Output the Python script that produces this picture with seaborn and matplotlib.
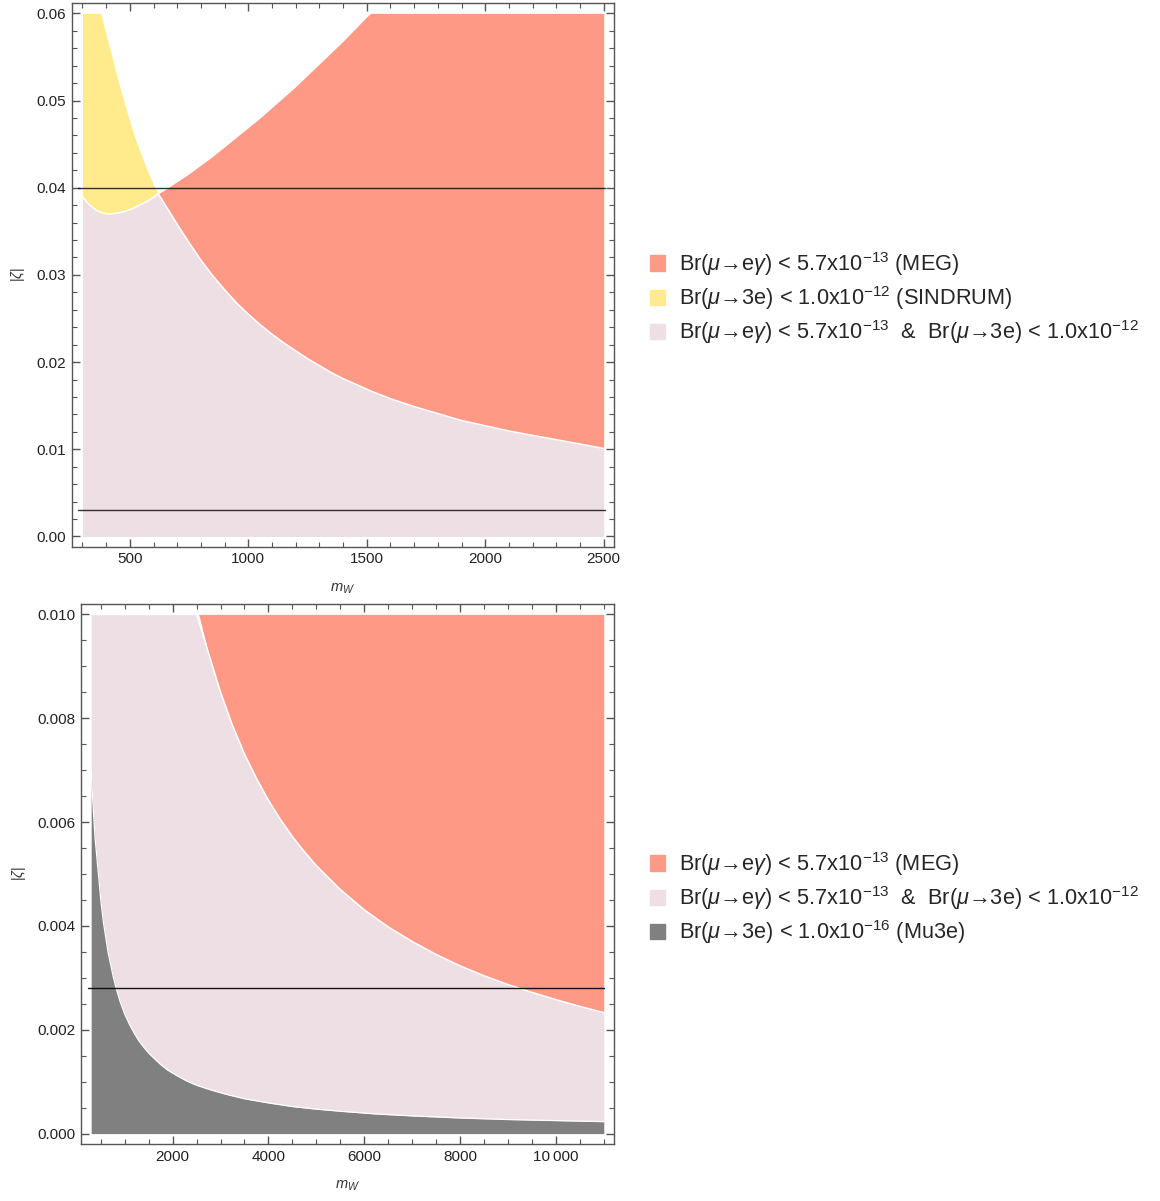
import numpy as np
import pandas as pd
import seaborn as sns
import matplotlib
matplotlib.use("Agg")
import matplotlib.pyplot as plt
from matplotlib.patches import Patch
from matplotlib.ticker import MultipleLocator, FixedLocator, FormatStrFormatter

sns.set_style("ticks")
plt.rcParams['font.family'] = ['Liberation Sans', 'DejaVu Sans']
plt.rcParams['mathtext.fontset'] = 'custom'
plt.rcParams['mathtext.rm'] = 'Liberation Sans'
plt.rcParams['mathtext.it'] = 'Liberation Sans:italic'
plt.rcParams['mathtext.bf'] = 'Liberation Sans:bold'

# ---- top panel: m_W' from 300 to 2500 ----
x_top = [300, 320, 340, 360, 377, 400, 420, 450, 480, 510, 540, 570, 600, 620,
         650, 700, 750, 800, 850, 900, 950, 1000, 1050, 1100, 1150, 1200, 1250,
         1300, 1350, 1400, 1450, 1500, 1516, 1600, 1700, 1800, 1900, 2000, 2100,
         2200, 2300, 2400, 2500]
# SINDRUM boundary (mu -> 3e), allowed below
sindrum_top = [0.0690, 0.0665, 0.0640, 0.0617, 0.0600, 0.0575, 0.0555, 0.0523,
               0.0494, 0.0467, 0.0443, 0.0422, 0.0403, 0.0393, 0.0380, 0.0358,
               0.0337, 0.0317, 0.0299, 0.0283, 0.0268, 0.0255, 0.0243, 0.0232,
               0.0222, 0.0213, 0.0204, 0.0196, 0.0188, 0.0181, 0.0175, 0.0169,
               0.0167, 0.0158, 0.0149, 0.0141, 0.0133, 0.0127, 0.0121, 0.0116,
               0.0111, 0.0106, 0.0101]
# MEG boundary (mu -> e gamma), allowed below
meg_top = [0.0390, 0.0383, 0.0378, 0.0374, 0.0372, 0.0370, 0.0370, 0.0371,
           0.0373, 0.0376, 0.0380, 0.0384, 0.0389, 0.0393, 0.0398, 0.0407,
           0.0416, 0.0426, 0.0436, 0.0447, 0.0458, 0.0469, 0.0480, 0.0492,
           0.0504, 0.0516, 0.0529, 0.0542, 0.0555, 0.0568, 0.0582, 0.0596,
           0.0600, 0.0622, 0.0650, 0.0680, 0.0710, 0.0740, 0.0770, 0.0800,
           0.0830, 0.0860, 0.0890]
hlines_top = [0.04, 0.003]

# ---- bottom panel: m_W' from 300 to 11000 ----
x_sin_bot = [300, 1000, 2000, 2500, 2750, 3000, 3250, 3500, 3750, 4000, 4250,
             4500, 4750, 5000, 5500, 6000, 6500, 7000, 7500, 8000, 8500, 9000,
             9500, 10000, 10500, 11000]
sindrum_bot = [0.0690, 0.0255, 0.0127, 0.01016, 0.00925, 0.00850, 0.00786,
               0.00731, 0.00684, 0.00642, 0.00605, 0.00572, 0.00543, 0.00516,
               0.00470, 0.00431, 0.00398, 0.00370, 0.00345, 0.00323, 0.00304,
               0.00287, 0.00272, 0.00258, 0.00245, 0.00233]
x_mu3e = [300, 310, 320, 340, 360, 380, 400, 430, 460, 500, 550, 600, 650, 700,
          760, 820, 900, 1000, 1100, 1200, 1300, 1400, 1500, 1600, 1750, 1900,
          2100, 2300, 2500, 2800, 3100, 3500, 4000, 4500, 5000, 5500, 6200,
          7000, 8000, 9000, 10000, 11000]
mu3e_bot = [0.0070, 0.0068, 0.0066, 0.0063, 0.0060, 0.0057, 0.0055, 0.0052,
            0.0049, 0.0045, 0.0041, 0.0038, 0.0035, 0.00328, 0.00302, 0.0028,
            0.00255, 0.00230, 0.00210, 0.00193, 0.00178, 0.00166, 0.00155,
            0.00146, 0.00133, 0.00122, 0.00111, 0.00101, 0.00093, 0.00084,
            0.00076, 0.00067, 0.00059, 0.00052, 0.00047, 0.00043, 0.00038,
            0.00034, 0.00030, 0.00027, 0.00025, 0.00023]
hlines_bot = [0.0028]

lab_meg = r"Br($\mu$→e$\gamma$) < 5.7x10$^{-13}$ (MEG)"
lab_sin = r"Br($\mu$→3e) < 1.0x10$^{-12}$ (SINDRUM)"
lab_both = r"Br($\mu$→e$\gamma$) < 5.7x10$^{-13}$  &  Br($\mu$→3e) < 1.0x10$^{-12}$"
lab_mu3e = r"Br($\mu$→3e) < 1.0x10$^{-16}$ (Mu3e)"

c_red = "#FE9985"
c_yel = "#FFEB8C"
c_pink = "#EDDFE4"
c_gray = "#808080"
c_frame = "#555555"

df_top = pd.DataFrame({"m": x_top, "sin": sindrum_top, "meg": meg_top})
df_top["lo"] = df_top[["sin", "meg"]].min(axis=1)

fig = plt.figure(figsize=(11.6, 12.01), dpi=100)
ax1 = fig.add_axes([0.0621, 0.5446, 0.4673, 0.4530])
ax2 = fig.add_axes([0.0698, 0.0475, 0.4595, 0.4496])

cap = 0.06
m = df_top["m"].values
s = df_top["sin"].values
g = df_top["meg"].values
ax1.fill_between(m, 0, df_top["lo"], color=c_pink, lw=0)
ax1.fill_between(m, g, np.minimum(s, cap), where=s >= g, interpolate=True, color=c_yel, lw=0)
ax1.fill_between(m, s, np.minimum(g, cap), where=g >= s, interpolate=True, color=c_red, lw=0)
sns.lineplot(data=df_top, x="m", y="lo", ax=ax1, color="white", lw=1.1, estimator=None)
for h in hlines_top:
    sns.lineplot(x=[280, 2505], y=[h, h], ax=ax1, color="black", lw=1.0, alpha=0.8)
ax1.set_xlim(256, 2544)
ax1.set_ylim(-0.0012, 0.0612)
ax1.xaxis.set_major_locator(FixedLocator([500, 1000, 1500, 2000, 2500]))
ax1.xaxis.set_minor_locator(MultipleLocator(100))
ax1.yaxis.set_major_locator(MultipleLocator(0.01))
ax1.yaxis.set_minor_locator(MultipleLocator(0.002))
ax1.yaxis.set_major_formatter(FormatStrFormatter("%.2f"))

xs = np.array(x_sin_bot)
ys = np.array(sindrum_bot)
cap2 = 0.01
ax2.fill_between(xs, 0, np.minimum(ys, cap2), color=c_pink, lw=0)
ax2.fill_between(xs, ys, cap2, where=ys <= cap2, interpolate=True, color=c_red, lw=0)
ax2.fill_between(x_mu3e, 0, mu3e_bot, color=c_gray, lw=0)
sns.lineplot(x=xs, y=np.minimum(ys, cap2), ax=ax2, color="white", lw=1.1, estimator=None)
sns.lineplot(x=x_mu3e, y=mu3e_bot, ax=ax2, color="white", lw=0.9, estimator=None)
for h in hlines_bot:
    sns.lineplot(x=[230, 11000], y=[h, h], ax=ax2, color="black", lw=1.0, alpha=0.9)
ax2.set_xlim(86, 11214)
ax2.set_ylim(-0.0002, 0.0102)
ax2.xaxis.set_major_locator(FixedLocator([2000, 4000, 6000, 8000, 10000]))
ax2.xaxis.set_minor_locator(MultipleLocator(500))
ax2.set_xticklabels(["2000", "4000", "6000", "8000", "10\u2009000"])
ax2.yaxis.set_major_locator(MultipleLocator(0.002))
ax2.yaxis.set_minor_locator(MultipleLocator(0.0005))
ax2.yaxis.set_major_formatter(FormatStrFormatter("%.3f"))

for ax in (ax1, ax2):
    for sp in ax.spines.values():
        sp.set_color(c_frame)
        sp.set_linewidth(1.0)
    ax.tick_params(which="both", direction="in", top=True, right=True,
                   color=c_frame, labelsize=11, labelcolor="#222222", pad=4)
    ax.tick_params(which="major", length=6, width=1.0)
    ax.tick_params(which="minor", length=3.5, width=0.8)
    ax.set_xlabel(r"$m_{W'}$", fontsize=10.5, color="#333333", labelpad=11)
    ax.set_ylabel(r"$|\zeta|$", fontsize=10.5, color="#333333", labelpad=7)

leg_kw = dict(loc="center left", frameon=False, borderpad=0, borderaxespad=0,
              handlelength=0.7, handleheight=0.7, handletextpad=0.6,
              labelspacing=0.3, fontsize=15.7)
fig.legend([Patch(color=c_red), Patch(color=c_yel), Patch(color=c_pink)],
           [lab_meg, lab_sin, lab_both],
           bbox_to_anchor=(0.5605, 1 - 298 / 1201), **leg_kw)
fig.legend([Patch(color=c_red), Patch(color=c_pink), Patch(color=c_gray)],
           [lab_meg, lab_both, lab_mu3e],
           bbox_to_anchor=(0.5605, 1 - 898 / 1201), **leg_kw)

fig.savefig("out.png", dpi=100)
